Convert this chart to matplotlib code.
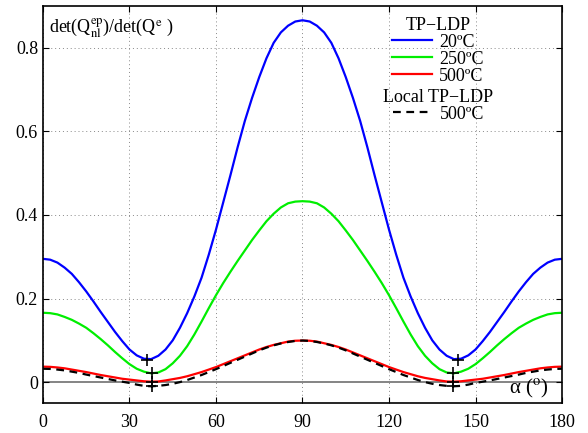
import matplotlib
matplotlib.use('Agg')
import matplotlib.pyplot as plt

plt.rcParams['font.family'] = ['Liberation Serif', 'DejaVu Serif']
plt.rcParams['mathtext.fontset'] = 'stix'

# angle alpha (deg), every 2.5 deg
alpha = [0, 2.5, 5, 7.5, 10, 12.5, 15, 17.5, 20, 22.5, 25, 27.5, 30, 32.5, 35, 37.5, 40, 42.5, 45,
         47.5, 50, 52.5, 55, 57.5, 60, 62.5, 65, 67.5, 70, 72.5, 75, 77.5, 80, 82.5, 85, 87.5, 90,
         92.5, 95, 97.5, 100, 102.5, 105, 107.5, 110, 112.5, 115, 117.5, 120, 122.5, 125, 127.5,
         130, 132.5, 135, 137.5, 140, 142.5, 145, 147.5, 150, 152.5, 155, 157.5, 160, 162.5, 165,
         167.5, 170, 172.5, 175, 177.5, 180]

# det(Q_nl^ep)/det(Q^e)
tp_20 = [0.295, 0.293, 0.286, 0.274, 0.259, 0.239, 0.217, 0.193, 0.168, 0.144, 0.120, 0.098, 0.078,
         0.064, 0.056, 0.055, 0.063, 0.078, 0.100, 0.130, 0.165, 0.205, 0.250, 0.305, 0.365, 0.430,
         0.495, 0.562, 0.625, 0.680, 0.730, 0.775, 0.812, 0.837, 0.853, 0.863, 0.866,
         0.863, 0.853, 0.837, 0.812, 0.775, 0.730, 0.680, 0.625, 0.562, 0.495, 0.430, 0.365, 0.305,
         0.250, 0.205, 0.165, 0.130, 0.100, 0.078, 0.063, 0.055, 0.056, 0.064, 0.078, 0.098, 0.120,
         0.144, 0.168, 0.193, 0.217, 0.239, 0.259, 0.274, 0.286, 0.293, 0.295]
tp_250 = [0.166, 0.165, 0.162, 0.156, 0.149, 0.140, 0.130, 0.117, 0.103, 0.088, 0.072, 0.057, 0.043,
          0.032, 0.025, 0.021, 0.023, 0.031, 0.045, 0.063, 0.086, 0.114, 0.145, 0.177, 0.208, 0.237,
          0.264, 0.290, 0.315, 0.340, 0.363, 0.385, 0.403, 0.418, 0.428, 0.432, 0.433,
          0.432, 0.428, 0.418, 0.403, 0.385, 0.363, 0.340, 0.315, 0.290, 0.264, 0.237, 0.208, 0.177,
          0.145, 0.114, 0.086, 0.063, 0.045, 0.031, 0.023, 0.021, 0.025, 0.032, 0.043, 0.057, 0.072,
          0.088, 0.103, 0.117, 0.130, 0.140, 0.149, 0.156, 0.162, 0.165, 0.166]
tp_500 = [0.037, 0.0365, 0.035, 0.033, 0.030, 0.027, 0.024, 0.0205, 0.017, 0.014, 0.011, 0.008, 0.006,
          0.004, 0.002, 0.001, 0.0015, 0.004, 0.007, 0.010, 0.014, 0.019, 0.024, 0.030, 0.036, 0.043,
          0.050, 0.057, 0.064, 0.071, 0.078, 0.084, 0.089, 0.093, 0.097, 0.099, 0.0995,
          0.099, 0.097, 0.093, 0.089, 0.084, 0.078, 0.071, 0.064, 0.057, 0.050, 0.043, 0.036, 0.030,
          0.024, 0.019, 0.014, 0.010, 0.007, 0.004, 0.0015, 0.001, 0.002, 0.004, 0.006, 0.008, 0.011,
          0.014, 0.017, 0.0205, 0.024, 0.027, 0.030, 0.033, 0.035, 0.0365, 0.037]
local_500 = [0.032, 0.0315, 0.030, 0.028, 0.025, 0.022, 0.018, 0.0145, 0.011, 0.0075, 0.004, 0.001,
             -0.002, -0.006, -0.009, -0.010, -0.009, -0.007, -0.004, 0.000, 0.005, 0.011, 0.017,
             0.024, 0.031, 0.0385, 0.046, 0.0535, 0.061, 0.0685, 0.076, 0.0825, 0.088, 0.0925, 0.096,
             0.0985, 0.0995,
             0.0985, 0.096, 0.0925, 0.088, 0.0825, 0.076, 0.0685, 0.061, 0.0535, 0.046, 0.0385, 0.031,
             0.024, 0.017, 0.011, 0.005, 0.000, -0.004, -0.007, -0.009, -0.010, -0.009, -0.006,
             -0.002, 0.001, 0.004, 0.0075, 0.011, 0.0145, 0.018, 0.022, 0.025, 0.028, 0.030, 0.0315,
             0.032]

# minima markers (+)
min_alpha = [36, 37.7, 37.7, 37.7, 144, 142.3, 142.3, 142.3]
min_val = [0.054, 0.021, 0.001, -0.010, 0.054, 0.021, 0.001, -0.010]

xticks = [0, 30, 60, 90, 120, 150, 180]
yticks = [0, 0.2, 0.4, 0.6, 0.8]
ytick_labels = ['0', '0.2', '0.4', '0.6', '0.8']

fig = plt.figure(figsize=(5.88, 4.33), dpi=100)
ax = fig.add_axes([0.0731, 0.0693, 0.8827, 0.9167])

ax.axhline(0, color='#707070', linewidth=1.2, zorder=1)
l1, = ax.plot(alpha, tp_20, color='#0000ff', linewidth=1.6)
l2, = ax.plot(alpha, tp_250, color='#00ee00', linewidth=1.6)
l3, = ax.plot(alpha, tp_500, color='#ff0000', linewidth=1.6)
l4, = ax.plot(alpha, local_500, color='black', linewidth=1.6, linestyle=(0, (3.5, 2.5)))
ax.plot(min_alpha, min_val, linestyle='none', marker='+', color='black', markersize=9, mew=1.2)

ax.set_xlim(0, 180)
ax.set_ylim(-0.05, 0.9)
ax.set_xticks(xticks)
ax.set_yticks(yticks)
ax.set_yticklabels(ytick_labels)
ax.tick_params(direction='in', top=True, right=True, labelsize=13, length=4, width=0.8)
ax.tick_params(axis='x', pad=8)
ax.grid(True, linestyle=(0, (1, 3)), color='#888888', linewidth=0.7)
for s in ax.spines.values():
    s.set_linewidth(1.2)

ax.text(0.012, 0.975, r'det(Q$_{\rm nl}^{\rm ep}$)/det(Q$^{\rm e}$ )', transform=ax.transAxes,
        fontsize=13, va='top', ha='left')
ax.text(0.975, 0.008, r'α ($^{\rm o}$)', transform=ax.transAxes, fontsize=15,
        va='bottom', ha='right')

leg1 = ax.legend([l1, l2, l3], ['20ºC', '250ºC', '500ºC'], title='TP−LDP', loc='upper left',
                 bbox_to_anchor=(0.645, 1.01), frameon=False, fontsize=13, title_fontsize=13,
                 handlelength=2.2, handletextpad=0.4, labelspacing=0.0, borderpad=0.3)
ax.add_artist(leg1)
ax.legend([l4], ['500ºC'], title='Local TP−LDP', loc='upper left', bbox_to_anchor=(0.628, 0.828),
          frameon=False, fontsize=13, title_fontsize=13, handlelength=2.2, handletextpad=0.4,
          labelspacing=0.0, borderpad=0.3)

fig.savefig('out.png', dpi=100)
